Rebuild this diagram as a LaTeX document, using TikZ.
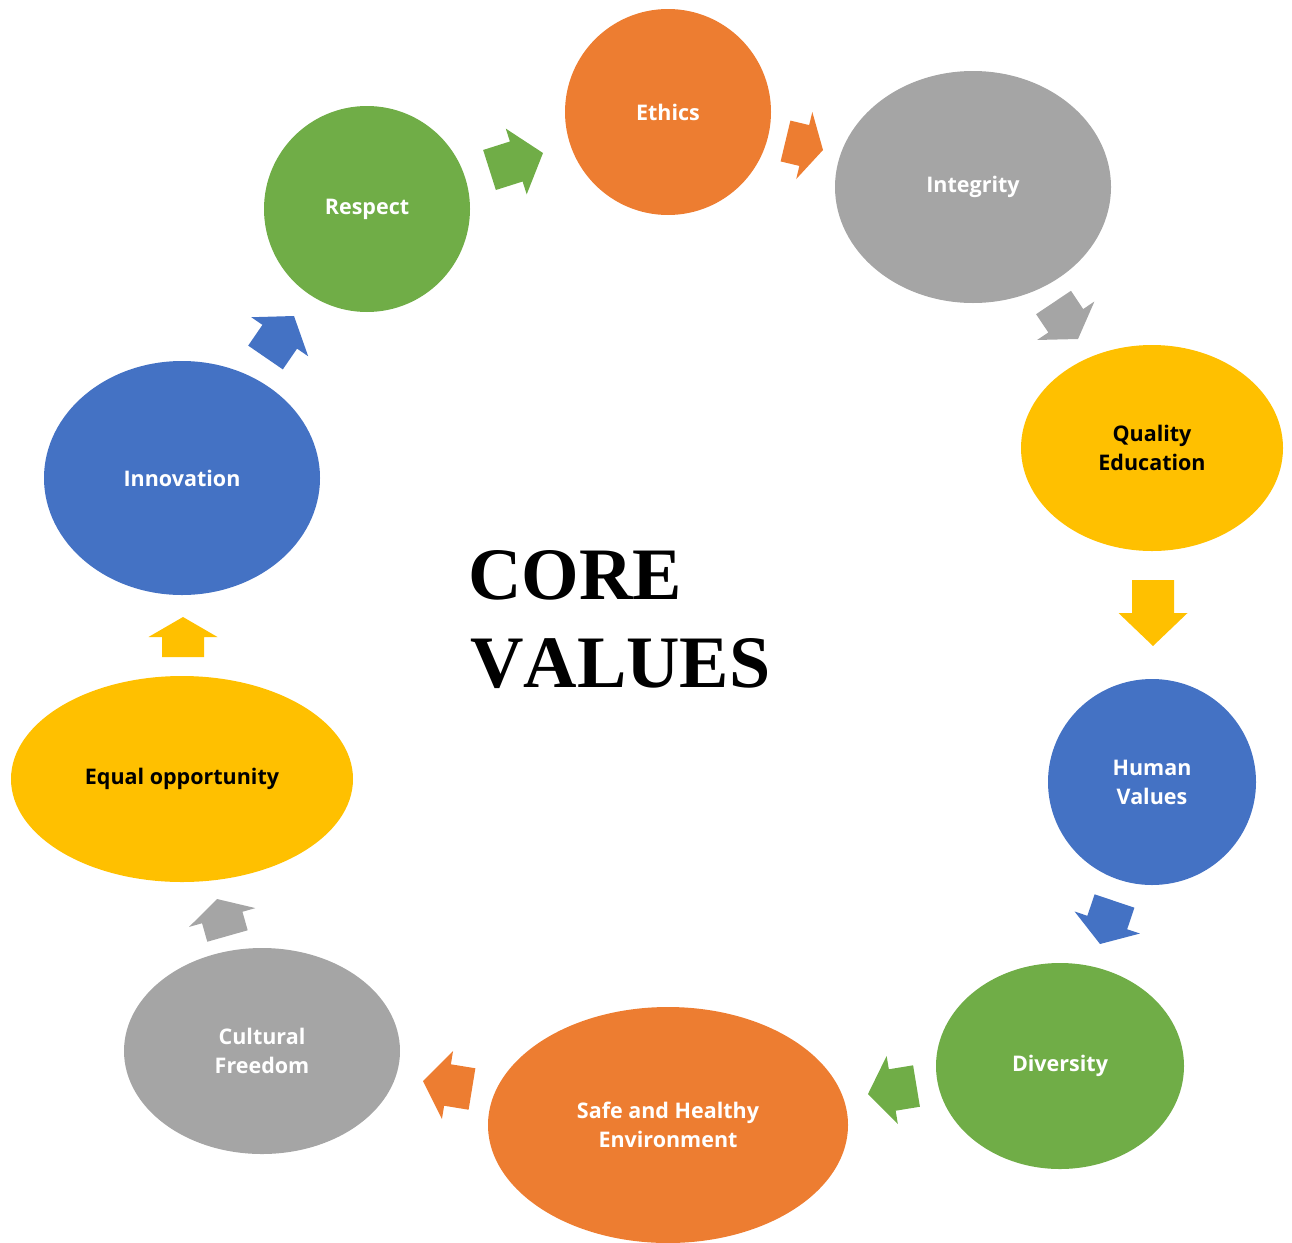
\documentclass[tikz,border=0pt]{standalone}
\usepackage{fontspec}
\setmainfont{Liberation Serif}[Kerning=Off]
\newfontfamily\labfont{Open Sans}
\usetikzlibrary{shapes.geometric,calc}
\definecolor{cvorange}{HTML}{ED7D31}
\definecolor{cvgray}{HTML}{A5A5A5}
\definecolor{cvyellow}{HTML}{FFC000}
\definecolor{cvblue}{HTML}{4472C4}
\definecolor{cvgreen}{HTML}{70AD47}
\tikzset{
  valnode/.style={ellipse, fill=#1, draw=none, inner sep=0pt, align=center,
    text=white, font=\labfont\bfseries\fontsize{21.5}{29}\selectfont},
  darktext/.style={text=black},
  titletext/.style={anchor=base west, inner sep=0pt, font=\bfseries\fontsize{74}{87}\selectfont}
}
\newcommand\cvarrow[3]{%
  \coordinate (cvt) at #2; \coordinate (cvh) at #3;
  \coordinate (cvm) at ($(cvt)!0.5!(cvh)$);
  \fill[#1] ($(cvt)!21pt!90:(cvh)$) -- ($(cvm)!21pt!90:(cvh)$) -- ($(cvm)!34.5pt!90:(cvh)$)
    -- (cvh) -- ($(cvm)!34.5pt!-90:(cvh)$) -- ($(cvm)!21pt!-90:(cvh)$)
    -- ($(cvt)!21pt!-90:(cvh)$) -- cycle;}
\begin{document}
\begin{tikzpicture}[x=1pt,y=-1pt]
\useasboundingbox (0,0) rectangle (1292,1242);
\node[valnode=cvorange, minimum width=206pt, minimum height=206pt] (ethics) at (668,112) {Ethics};
\node[valnode=cvgray, minimum width=276pt, minimum height=232pt] (integrity) at (973,187) {Integrity};
\node[valnode=cvyellow, darktext, minimum width=262pt, minimum height=206pt] (quality) at (1152,448) {Quality\\Education};
\node[valnode=cvblue, minimum width=208pt, minimum height=206pt] (human) at (1152,782) {Human\\Values};
\node[valnode=cvgreen, minimum width=248pt, minimum height=206pt] (diversity) at (1060,1066) {Diversity};
\node[valnode=cvorange, minimum width=360pt, minimum height=236pt] (safe) at (668,1125) {Safe and Healthy\\Environment};
\node[valnode=cvgray, minimum width=276pt, minimum height=206pt] (cultural) at (262,1051) {Cultural\\Freedom};
\node[valnode=cvyellow, darktext, minimum width=342pt, minimum height=206pt] (equal) at (182,779) {Equal opportunity};
\node[valnode=cvblue, minimum width=276pt, minimum height=234pt] (innovation) at (182,478) {Innovation};
\node[valnode=cvgreen, minimum width=206pt, minimum height=206pt] (respect) at (367,209) {Respect};
\node[titletext] (title1) at (468,599) {CORE};
\node[titletext] (title2) at (470,687) {VALUES};
\cvarrow{cvgreen}{(489.5,170)}{(543,153)}
\cvarrow{cvorange}{(785.5,141)}{(823,150)}
\cvarrow{cvgray}{(1053.5,302.5)}{(1078,339)}
\cvarrow{cvyellow}{(1153,580)}{(1153,646)}
\cvarrow{cvblue}{(1114.5,901)}{(1100,944)}
\cvarrow{cvgreen}{(916.5,1086)}{(868,1094)}
\cvarrow{cvorange}{(472,1089)}{(423,1081)}
\cvarrow{cvgray}{(227.5,936)}{(217,899)}
\cvarrow{cvyellow}{(183,657)}{(183,617)}
\cvarrow{cvblue}{(265.5,357.5)}{(294,316)}
\end{tikzpicture}
\end{document}
